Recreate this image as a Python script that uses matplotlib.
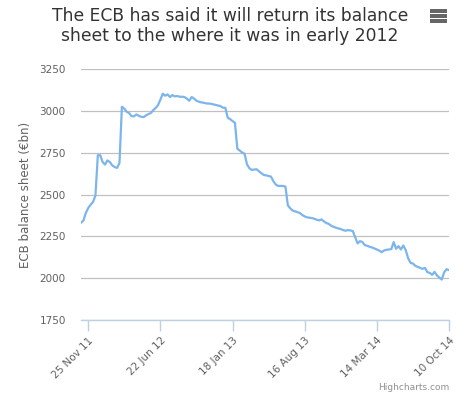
import matplotlib
matplotlib.use("Agg")
from matplotlib import pyplot as plt
import matplotlib.dates as mdates
import pandas as pd

# weekly ECB balance sheet, EUR bn
start = "2011-11-04"
values = [
    2332, 2345, 2390, 2420, 2440, 2456, 2495, 2736, 2736, 2695,
    2680, 2705, 2695, 2675, 2665, 2660, 2690, 3026, 3015, 2996,
    2988, 2970, 2968, 2980, 2972, 2966, 2964, 2974, 2982, 2988,
    3005, 3018, 3035, 3068, 3104, 3092, 3100, 3084, 3096, 3088,
    3090, 3086, 3086, 3084, 3075, 3062, 3084, 3075, 3062, 3056,
    3052, 3050, 3046, 3045, 3044, 3040, 3037, 3033, 3030, 3020,
    3020, 2960, 2952, 2940, 2930, 2775, 2764, 2752, 2745, 2682,
    2658, 2648, 2650, 2652, 2640, 2628, 2618, 2615, 2612, 2608,
    2580, 2560, 2552, 2552, 2552, 2548, 2436, 2418, 2405, 2400,
    2395, 2390, 2378, 2370, 2364, 2362, 2360, 2356, 2350, 2346,
    2352, 2340, 2330, 2325, 2314, 2308, 2302, 2298, 2294, 2288,
    2284, 2288, 2286, 2282, 2245, 2208, 2222, 2216, 2198, 2194,
    2188, 2184, 2178, 2172, 2165, 2156, 2166, 2170, 2172, 2174,
    2216, 2176, 2192, 2172, 2196, 2168, 2120, 2092, 2088, 2074,
    2068, 2062, 2056, 2062, 2036, 2032, 2020, 2038, 2016, 2004,
    1992, 2036, 2054, 2048,
]
dates = pd.date_range(start, periods=len(values), freq="7D")

tick_dates = pd.to_datetime(["2011-11-25", "2012-06-22", "2013-01-18",
                             "2013-08-16", "2014-03-14", "2014-10-10"])
y_ticks = [1750, 2000, 2250, 2500, 2750, 3000, 3250]

title = "The ECB has said it will return its balance\nsheet to the where it was in early 2012"
ylabel = "ECB balance sheet (€bn)"

plt.rcParams["font.family"] = ["DejaVu Sans"]

fig = plt.figure(figsize=(4.72, 3.97), dpi=100)
ax = fig.add_axes([81/472, 1 - 320/397, 368/472, (320 - 69.3)/397])

ax.plot(dates, values, color="#7cb5ec", lw=1.6, solid_joinstyle="round")

ax.set_xlim(dates[0], dates[-1])
ax.set_ylim(1750, 3250)
ax.set_yticks(y_ticks)
ax.grid(axis="y", color="#c0c0c0", lw=0.9)
ax.set_axisbelow(True)

for s in ["left", "right", "top"]:
    ax.spines[s].set_visible(False)
ax.spines["bottom"].set_color("#c0d0e0")
ax.spines["bottom"].set_linewidth(1)

ax.set_xticks(tick_dates)
ax.xaxis.set_major_formatter(mdates.DateFormatter("%d %b %y"))
ax.tick_params(axis="x", length=8, color="#c0d0e0", width=1,
               labelsize=7.5, labelcolor="#606060", pad=3)
ax.tick_params(axis="y", length=0, labelsize=7.5, labelcolor="#606060", pad=11)
for lab in ax.get_xticklabels():
    lab.set_rotation(45)
    lab.set_ha("right")
    lab.set_rotation_mode("anchor")

ax.set_ylabel(ylabel, color="#606060", fontsize=8.5, labelpad=5)

fig.text(230/472, 1 - 26/397, title, ha="center", va="center",
         fontsize=12.3, color="#333333", linespacing=1.15)

# menu button
for yy in [11, 16, 21]:
    fig.patches.append(plt.Rectangle((430/472, 1 - (yy + 1.5)/397), 17/472, 3/397,
                                     transform=fig.transFigure, fc="#666666",
                                     lw=0))

fig.text(449/472, 1 - 387/397, "Highcharts.com", ha="right", va="center",
         fontsize=6.5, color="#909090")

fig.savefig("out.png", dpi=100)
